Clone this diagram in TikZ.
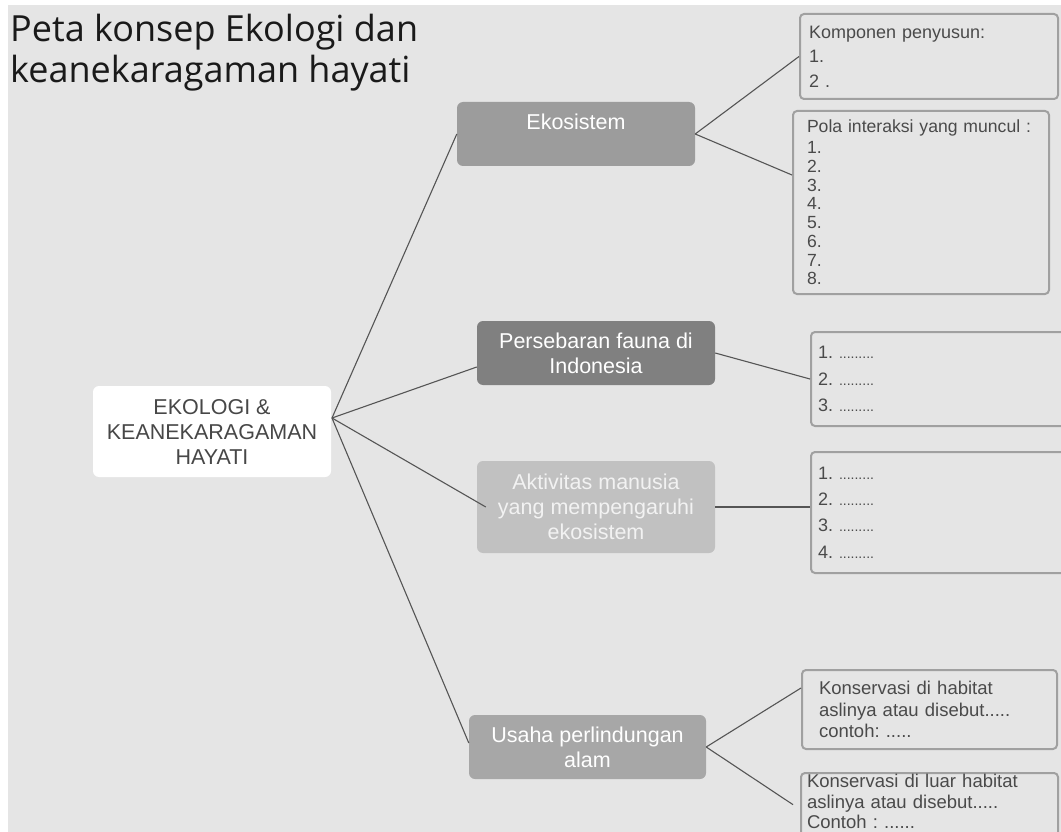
\documentclass[tikz,border=0pt]{standalone}
\usepackage{fontspec}
\setmainfont{Liberation Sans}
\newfontfamily\titlefont{Open Sans}
\usetikzlibrary{calc}
\frenchspacing
\definecolor{bg}{HTML}{E5E5E5}
\definecolor{titlec}{HTML}{1A1A1A}
\definecolor{centtxt}{HTML}{474747}
\definecolor{listtxt}{HTML}{4A4A4A}
\definecolor{ekoc}{HTML}{9C9C9C}
\definecolor{faunac}{HTML}{808080}
\definecolor{aktc}{HTML}{C1C1C1}
\definecolor{akttxt}{HTML}{F2F2F2}
\definecolor{usahac}{HTML}{A7A7A7}
\definecolor{boxline}{HTML}{A0A0A0}
\definecolor{linkc}{HTML}{555555}
\newcommand{\dotsfill}{{\fontsize{14}{14}\selectfont .........}}
\tikzset{
  titletext/.style={font=\titlefont\fontsize{36}{41}\selectfont, text=titlec, align=left, inner sep=0pt},
  topic/.style={rounded corners=6pt, minimum width=238pt, align=center, text=white,
    font=\fontsize{21.5}{25}\selectfont, inner sep=0pt},
  listbox/.style={draw=boxline, line width=2pt, rounded corners=4pt, align=left,
    inner ysep=0pt, text=listtxt, font=\fontsize{18}{24.5}\selectfont},
  link/.style={draw=linkc, line width=1.1pt},
}
\begin{document}
\begin{tikzpicture}[x=1pt,y=-1pt]
\useasboundingbox (0,0) rectangle (1061,832);
\clip (0,0) rectangle (1061,832);
\fill[white] (0,0) rectangle (1061,832);
\fill[bg] (8,5) rectangle (1061,832);

\node[titletext, anchor=base west] (title) at (10,83) {Peta konsep Ekologi dan\\keanekaragaman hayati};

\node[topic, fill=white, text=centtxt, minimum height=91pt] (central) at (212,431.5) {EKOLOGI \&\\KEANEKARAGAMAN\\HAYATI};
\node[topic, fill=ekoc, minimum height=64pt] (eko) at (576,134) {Ekosistem\\\phantom{x}};
\node[topic, fill=faunac, minimum height=64pt] (fauna) at (596,353) {Persebaran fauna di\\Indonesia};
\node[topic, fill=aktc, text=akttxt, minimum height=92pt] (aktiv) at (596,507) {Aktivitas manusia\\yang mempengaruhi\\ekosistem};
\node[topic, fill=usahac, minimum width=237pt, minimum height=64pt] (usaha) at (587.5,747) {Usaha perlindungan\\alam};

\node[listbox, inner xsep=9pt, text width=240pt, minimum height=85pt] (komp) at (929,56.5)
  {Komponen penyusun:\\1.\\2 .};
\node[listbox, inner xsep=14pt, text width=228pt, minimum height=183pt, font=\fontsize{17.6}{18.7}\selectfont] (pola) at (921,202.5)
  {\mbox{Pola interaksi yang muncul :}\\[2.3pt]1.\\2.\\3.\\4.\\5.\\6.\\7.\\8.};
\node[listbox, inner xsep=7pt, text width=250pt, minimum height=94pt, font=\fontsize{18}{26.5}\selectfont] (faunaR) at (943,379)
  {1. \dotsfill\\2. \dotsfill\\3. \dotsfill};
\node[listbox, inner xsep=7pt, text width=250pt, minimum height=121pt, font=\fontsize{18}{26.3}\selectfont] (aktivR) at (943,512.5)
  {1. \dotsfill\\2. \dotsfill\\3. \dotsfill\\4. \dotsfill};
\node[listbox, inner xsep=17pt, text width=221pt, minimum height=79pt, font=\fontsize{18.5}{21.5}\selectfont] (kons1) at (929.5,709.5)
  {Konservasi di habitat\\aslinya atau disebut.....\\contoh: .....};
\node[listbox, anchor=north west, inner xsep=6pt, inner ysep=1.5pt, text width=245pt, font=\fontsize{18.5}{20.3}\selectfont] (kons2) at (800,772)
  {Konservasi di luar habitat\\aslinya atau disebut.....\\Contoh : ......\\\mbox{}};

\coordinate (hub) at (332,418);
\draw[link] (hub) -- (eko.west);
\draw[link] (hub) -- ($(fauna.west)+(0,14)$);
\draw[link] (hub) -- ($(aktiv.west)+(9,0)$);
\draw[link] (hub) -- ($(usaha.west)+(0,-4)$);
\draw[link] (eko.east) -- (komp.west);
\draw[link] (eko.east) -- ($(pola.west)+(0,-27.5)$);
\draw[link] (fauna.east) -- (faunaR.west);
\draw[link] (aktiv.east) -- (aktiv.east -| aktivR.west);
\draw[link] (usaha.east) -- ($(kons1.west)+(0,-21.5)$);
\draw[link] (usaha.east) -- ($(kons2.west)+(-7,-7)$);
\end{tikzpicture}
\end{document}
